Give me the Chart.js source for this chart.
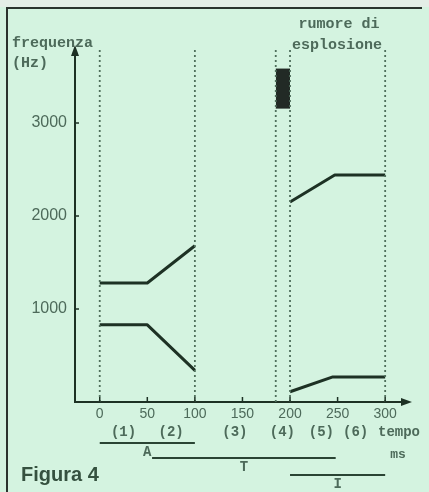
<!DOCTYPE html>
<html>
<head>
<meta charset="utf-8">
<script src="https://cdn.jsdelivr.net/npm/chart.js@4.4.1/dist/chart.umd.min.js"></script>
<style>
  html, body { margin: 0; padding: 0; background: #d4f3e0; }
  canvas { display: block; }
</style>
</head>
<body>
<canvas id="chart" width="429" height="492"></canvas>
<script>
// time axis (ms) and frequency axis (Hz)
const xTicks = [0, 50, 100, 150, 200, 250, 300];
const yTicks = [1000, 2000, 3000];
const boundaries = [0, 100, 185, 200, 300];

// formant tracks [ms, Hz]
const f2Left = [[0, 1280], [50, 1280], [100, 1680]];
const f1Left = [[0, 830], [50, 830], [100, 340]];
const f2Right = [[200, 2150], [247, 2440], [300, 2440]];
const f1Right = [[200, 110], [245, 270], [300, 270]];

// burst noise block: time span and frequency span
const burstTime = [185, 200];
const burstFreq = [3160, 3580];

// phase labels under the time axis
const phaseLabels = ['(1)', '(2)', '(3)', '(4)', '(5)', '(6)'];
const phaseCenters = [25, 75, 142, 192, 233, 269];

// segments A, T, I
const segNames = ['A', 'T', 'I'];
const segStart = [0, 55, 200];
const segEnd = [100, 248, 300];

const xMin = -26, xMax = 324;
const yMin = 0, yMax = 3785;

const ink = '#1d3124';
const grey = '#4d6a5a';
const mono = '"Liberation Mono", "DejaVu Sans Mono", monospace';
const sans = '"Liberation Sans", Arial, sans-serif';

const pts = arr => arr.map(p => ({ x: p[0], y: p[1] }));

const datasets = [];

// dotted boundaries
boundaries.forEach(b => {
  datasets.push({
    data: [{ x: b, y: yMin }, { x: b, y: yMax }],
    borderColor: '#4f6f5c',
    borderWidth: 1.8,
    borderDash: [2, 3],
    pointRadius: 0,
  });
});

// formant lines
[f2Left, f1Left, f2Right, f1Right].forEach(track => {
  datasets.push({
    data: pts(track),
    borderColor: ink,
    borderWidth: 3,
    borderJoinStyle: 'round',
    pointRadius: 0,
  });
});

// burst block (fill between top and bottom edges)
datasets.push({
  data: burstTime.map(t => ({ x: t, y: burstFreq[1] })),
  borderColor: '#222a25',
  borderWidth: 1,
  pointRadius: 0,
});
datasets.push({
  data: burstTime.map(t => ({ x: t, y: burstFreq[0] })),
  borderColor: '#222a25',
  borderWidth: 1,
  pointRadius: 0,
  fill: '-1',
  backgroundColor: '#222a25',
});

const decor = {
  id: 'decor',
  beforeDraw(chart) {
    const { ctx, width, height } = chart;
    ctx.save();
    ctx.fillStyle = '#d4f3e0';
    ctx.fillRect(0, 0, width, height);
    ctx.fillStyle = '#e4eee7';
    ctx.fillRect(0, 0, width, 7);
    ctx.restore();
  },
  afterDraw(chart) {
    const { ctx, chartArea: a } = chart;
    const sx = chart.scales.x, sy = chart.scales.y;
    ctx.save();

    // frame
    ctx.strokeStyle = '#2b332e';
    ctx.lineWidth = 2;
    ctx.beginPath();
    ctx.moveTo(7, 492);
    ctx.lineTo(7, 8);
    ctx.lineTo(422, 8);
    ctx.stroke();

    // arrows
    ctx.fillStyle = ink;
    ctx.beginPath();
    ctx.moveTo(a.left, a.top - 5);
    ctx.lineTo(a.left - 4, a.top + 6);
    ctx.lineTo(a.left + 4, a.top + 6);
    ctx.closePath();
    ctx.fill();
    ctx.beginPath();
    ctx.moveTo(a.right + 4, a.bottom);
    ctx.lineTo(a.right - 7, a.bottom - 4);
    ctx.lineTo(a.right - 7, a.bottom + 4);
    ctx.closePath();
    ctx.fill();

    // small tick marks
    ctx.strokeStyle = ink;
    ctx.lineWidth = 1.5;
    xTicks.forEach(v => {
      const px = sx.getPixelForValue(v);
      ctx.beginPath();
      ctx.moveTo(px, a.bottom);
      ctx.lineTo(px, a.bottom - 5);
      ctx.stroke();
    });
    yTicks.forEach(v => {
      const py = sy.getPixelForValue(v);
      ctx.beginPath();
      ctx.moveTo(a.left, py);
      ctx.lineTo(a.left + 4, py);
      ctx.stroke();
    });

    // axis titles and notes
    ctx.fillStyle = grey;
    ctx.font = 'bold 15px ' + mono;
    ctx.textBaseline = 'middle';
    ctx.textAlign = 'left';
    ctx.fillText('frequenza', 12, 43);
    ctx.fillText('(Hz)', 12, 63);
    ctx.textAlign = 'center';
    ctx.fillText('rumore di', 339, 24);
    ctx.fillText('esplosione', 337, 45);

    ctx.font = 'bold 14px ' + mono;
    phaseLabels.forEach((t, i) => {
      ctx.fillText(t, sx.getPixelForValue(phaseCenters[i]), 432);
    });
    ctx.textAlign = 'left';
    ctx.fillText('tempo', 378, 432);
    ctx.textAlign = 'center';
    ctx.font = 'bold 13px ' + mono;
    ctx.fillText('ms', 398, 455);

    // segments
    const lineY = [443, 458, 475];
    ctx.strokeStyle = '#2a4434';
    ctx.lineWidth = 2;
    ctx.font = 'bold 14px ' + mono;
    segNames.forEach((n, i) => {
      const x0 = sx.getPixelForValue(segStart[i]);
      const x1 = sx.getPixelForValue(segEnd[i]);
      ctx.beginPath();
      ctx.moveTo(x0, lineY[i]);
      ctx.lineTo(x1, lineY[i]);
      ctx.stroke();
      ctx.fillText(n, (x0 + x1) / 2, lineY[i] + 9);
    });

    // caption
    ctx.fillStyle = '#35513f';
    ctx.font = 'bold 20px ' + sans;
    ctx.textAlign = 'left';
    ctx.fillText('Figura 4', 21, 475);

    ctx.restore();
  }
};

new Chart(document.getElementById('chart'), {
  type: 'line',
  data: { datasets },
  options: {
    responsive: false,
    animation: false,
    layout: { padding: { top: 50, right: 21, left: 0, bottom: 0 } },
    plugins: { legend: { display: false }, tooltip: { enabled: false } },
    scales: {
      x: {
        type: 'linear',
        min: xMin,
        max: xMax,
        afterBuildTicks: s => { s.ticks = xTicks.map(v => ({ value: v })); },
        afterFit: s => { s.height = 90; },
        grid: { display: false, drawTicks: false },
        border: { display: true, color: ink, width: 2 },
        ticks: {
          color: grey,
          padding: 4,
          maxRotation: 0,
          autoSkip: false,
          callback: v => String(v),
          font: { family: sans, size: 14 },
        },
      },
      y: {
        type: 'linear',
        min: yMin,
        max: yMax,
        afterBuildTicks: s => { s.ticks = yTicks.map(v => ({ value: v })); },
        afterFit: s => { s.width = 75; },
        grid: { display: false, drawTicks: false },
        border: { display: true, color: ink, width: 2 },
        ticks: {
          color: grey,
          padding: 8,
          callback: v => String(v),
          font: { family: sans, size: 16 },
        },
      },
    },
  },
  plugins: [decor],
});
</script>
</body>
</html>
